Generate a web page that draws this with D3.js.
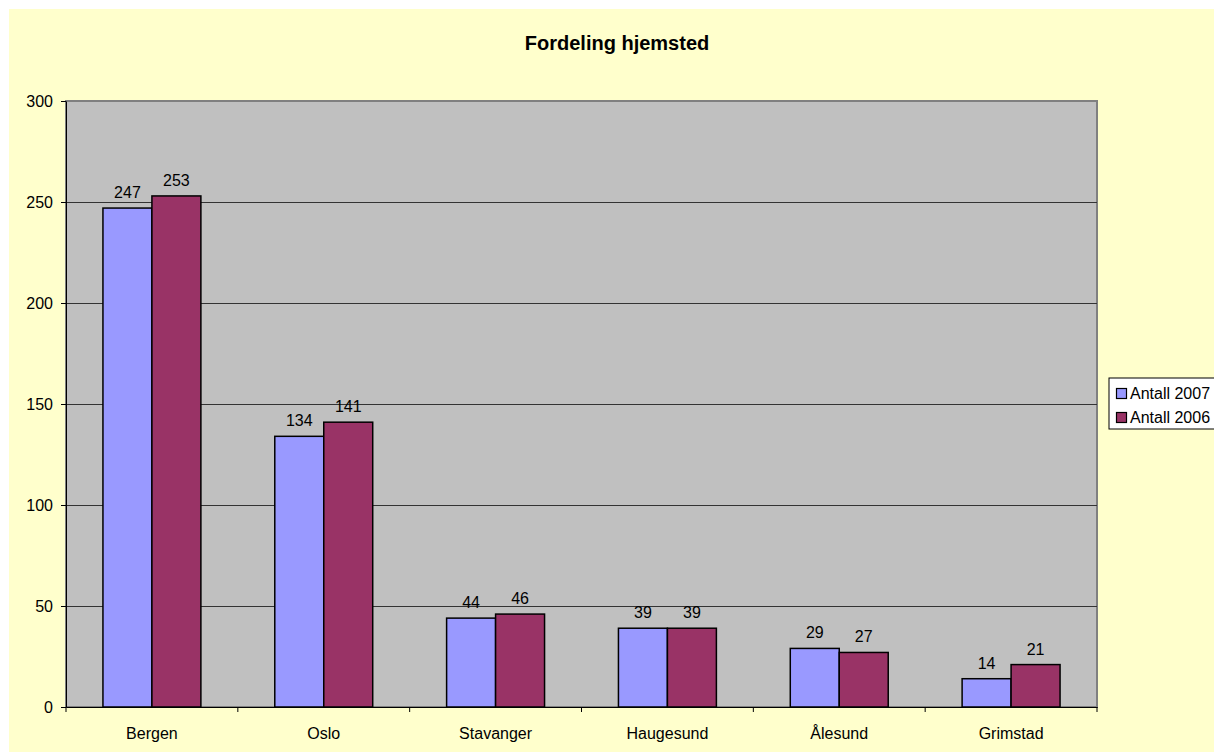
<!DOCTYPE html>
<html>
<head>
<meta charset="utf-8">
<script src="https://cdn.jsdelivr.net/npm/d3@7"></script>
<style>
  body { margin: 0; background: #ffffff; }
  svg { display: block; font-family: "Liberation Sans", Arial, sans-serif; }
</style>
</head>
<body>
<div id="wrapper"></div>
<script>
const cities = ['Bergen', 'Oslo', 'Stavanger', 'Haugesund', 'Ålesund', 'Grimstad']
const seriesNames = ['Antall 2007', 'Antall 2006']
const antall2007 = [247, 134, 44, 39, 29, 14]
const antall2006 = [253, 141, 46, 39, 27, 21]
const yTicks = [0, 50, 100, 150, 200, 250, 300]
const colors = ['#9999ff', '#993366']

const width = 1214
const height = 752
const margin = { top: 101, right: 117, bottom: 45, left: 66 }
const boundedWidth = width - margin.left - margin.right
const boundedHeight = height - margin.top - margin.bottom
const fontSize = 16

const svg = d3.select('#wrapper').append('svg')
    .attr('width', width)
    .attr('height', height)

// chart area background
svg.append('rect')
    .attr('x', 9).attr('y', 9)
    .attr('width', width - 9).attr('height', height - 9)
    .attr('fill', '#ffffcc')

const bounds = svg.append('g')
    .attr('transform', `translate(${margin.left},${margin.top})`)

const xScale = d3.scaleBand()
    .domain(cities)
    .range([0, boundedWidth])
    .paddingInner(0)

const yScale = d3.scaleLinear()
    .domain([0, 300])
    .range([boundedHeight, 0])

// plot area
bounds.append('rect')
    .attr('width', boundedWidth)
    .attr('height', boundedHeight)
    .attr('fill', '#c0c0c0')
    .attr('stroke', '#808080')
    .attr('stroke-width', 2)

// gridlines
bounds.selectAll('.grid')
    .data(yTicks.filter(d => d > 0 && d < 300))
    .join('line')
    .attr('x1', 0).attr('x2', boundedWidth)
    .attr('y1', d => Math.round(yScale(d)) + 0.5)
    .attr('y2', d => Math.round(yScale(d)) + 0.5)
    .attr('stroke', '#333')
    .attr('stroke-width', 1)

// bars
const barW = xScale.bandwidth() * 0.285
const groups = bounds.selectAll('.grp')
    .data(cities)
    .join('g')
    .attr('transform', d => `translate(${xScale(d) + xScale.bandwidth() / 2},0)`)

const seriesVals = [antall2007, antall2006]
seriesVals.forEach((vals, s) => {
    groups.append('rect')
        .attr('x', s === 0 ? -barW : 0)
        .attr('width', barW)
        .attr('y', (d, i) => yScale(vals[i]))
        .attr('height', (d, i) => boundedHeight - yScale(vals[i]))
        .attr('fill', colors[s])
        .attr('stroke', '#000')
        .attr('stroke-width', 1.5)

    groups.append('text')
        .attr('x', s === 0 ? -barW / 2 : barW / 2)
        .attr('y', (d, i) => yScale(vals[i]) - 10)
        .attr('text-anchor', 'middle')
        .attr('font-size', fontSize)
        .attr('fill', '#000')
        .text((d, i) => vals[i])
})

// axes
const yAxis = bounds.append('g')
    .call(d3.axisLeft(yScale).tickValues(yTicks).tickSize(5).tickSizeOuter(0).tickPadding(8))
yAxis.select('.domain').attr('stroke', '#000')
yAxis.selectAll('.tick line').attr('stroke', '#000')
yAxis.selectAll('.tick text').attr('font-size', fontSize).attr('fill', '#000')
    .attr('font-family', '"Liberation Sans", Arial, sans-serif')

const xAxis = bounds.append('g')
    .attr('transform', `translate(0,${boundedHeight})`)
    .call(d3.axisBottom(xScale).tickSize(0).tickSizeOuter(0).tickPadding(21))
xAxis.select('.domain').attr('stroke', '#000')
xAxis.selectAll('.tick text').attr('font-size', fontSize).attr('fill', '#000')
    .attr('font-family', '"Liberation Sans", Arial, sans-serif')
// category separators
xAxis.selectAll('.sep')
    .data(cities.concat(['end']))
    .join('line')
    .attr('x1', (d, i) => i < cities.length ? xScale(d) : boundedWidth)
    .attr('x2', (d, i) => i < cities.length ? xScale(d) : boundedWidth)
    .attr('y1', 0).attr('y2', 5)
    .attr('stroke', '#000')

// title
svg.append('text')
    .attr('x', 617)
    .attr('y', 50)
    .attr('text-anchor', 'middle')
    .attr('font-size', 20)
    .attr('font-weight', 'bold')
    .text('Fordeling hjemsted')

// legend
const legend = svg.append('g').attr('transform', 'translate(1109,378)')
legend.append('rect')
    .attr('width', 120).attr('height', 51)
    .attr('fill', '#ffffff')
    .attr('stroke', '#000')
seriesNames.forEach((name, i) => {
    legend.append('rect')
        .attr('x', 7.5).attr('y', 10.5 + i * 24)
        .attr('width', 10).attr('height', 10)
        .attr('fill', colors[i])
        .attr('stroke', '#000')
        .attr('stroke-width', 1.2)
    legend.append('text')
        .attr('x', 21).attr('y', 21 + i * 24)
        .attr('font-size', fontSize)
        .text(name)
})
</script>
</body>
</html>
